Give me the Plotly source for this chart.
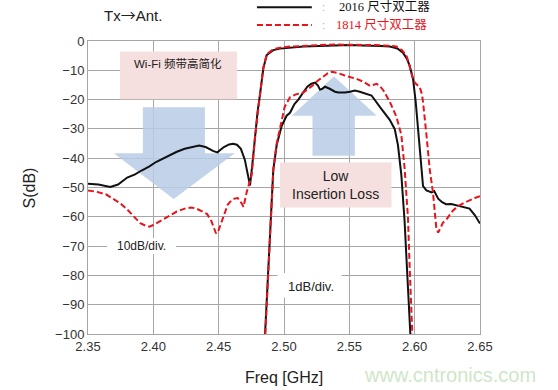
import plotly.graph_objects as go

# ---------------- data ----------------
series_names = ["2016 尺寸双工器", "1814 尺寸双工器"]

# wideband response (10 dB/div) - 2016 size (black)
f_wide_2016 = [2.350, 2.358, 2.367, 2.373, 2.380, 2.386, 2.391, 2.397, 2.402, 2.408, 2.413, 2.418,
               2.424, 2.430, 2.435, 2.440, 2.446, 2.449, 2.454, 2.458, 2.461, 2.464, 2.467, 2.470,
               2.472, 2.474, 2.4758, 2.4778, 2.4798, 2.4816, 2.4842, 2.4868, 2.4918, 2.497, 2.505,
               2.515, 2.527, 2.540, 2.550, 2.560, 2.5656, 2.574, 2.581, 2.587, 2.591, 2.594, 2.596,
               2.5987, 2.6008, 2.6026, 2.605, 2.6064, 2.609, 2.613, 2.615, 2.618, 2.621, 2.624,
               2.628, 2.634, 2.638, 2.642, 2.646, 2.650]
s_wide_2016 = [-48.7, -49.0, -49.8, -49.0, -46.6, -45.5, -44.2, -42.8, -41.3, -40.0, -38.8, -37.8,
               -36.8, -36.1, -35.7, -36.2, -37.6, -38.0, -36.2, -35.3, -35.1, -35.4, -36.8, -40.5,
               -45.0, -49.3, -42.0, -32.0, -24.0, -18.4, -9.3, -4.8, -3.1, -2.6, -2.2,
               -1.9, -1.7, -1.5, -1.4, -1.5, -1.5, -1.7, -1.9, -2.6, -4.0, -6.0, -8.2,
               -12.8, -20.8, -31.0, -43.7, -49.5, -51.0, -51.7, -51.2, -53.8, -55.0, -55.7,
               -55.6, -56.2, -56.6, -57.2, -59.4, -62.3]

# wideband response (10 dB/div) - 1814 size (red dashed)
f_wide_1814 = [2.350, 2.357, 2.364, 2.370, 2.375, 2.380, 2.385, 2.390, 2.394, 2.397, 2.400, 2.402,
               2.407, 2.413, 2.418, 2.424, 2.429, 2.433, 2.437, 2.441, 2.444, 2.446, 2.448, 2.450,
               2.452, 2.455, 2.457, 2.460, 2.462, 2.4645, 2.466, 2.468, 2.469, 2.4715, 2.4753,
               2.4778, 2.4798, 2.4816, 2.4842, 2.4868, 2.4918, 2.497, 2.505, 2.515, 2.527, 2.540,
               2.550, 2.560, 2.570, 2.580, 2.586, 2.590, 2.5936, 2.5955, 2.597, 2.599, 2.601,
               2.6038, 2.6055, 2.6064, 2.609, 2.6115, 2.614, 2.6155, 2.6166, 2.618, 2.620, 2.6217,
               2.625, 2.628, 2.631, 2.634, 2.638, 2.642, 2.646, 2.650]
s_wide_1814 = [-51.0, -51.5, -52.4, -54.0, -55.5, -57.5, -59.8, -62.2, -63.0, -63.4, -62.8, -62.3,
               -61.0, -59.4, -58.2, -57.2, -56.8, -57.2, -58.0, -59.0, -61.0, -63.5, -65.7, -64.5,
               -62.0, -58.5, -55.8, -54.3, -53.8, -53.6, -54.3, -55.7, -56.6, -51.5, -45.7,
               -33.0, -24.0, -18.4, -9.0, -4.5, -2.8, -2.3, -1.9, -1.6, -1.4, -1.2,
               -1.2, -1.3, -1.4, -1.6, -1.9, -3.0, -4.8, -7.5, -10.5, -13.5, -14.6,
               -15.7, -18.0, -20.8, -32.0, -43.7, -51.7, -58.0, -64.0, -65.4, -63.8, -62.0,
               -60.5, -58.5, -57.2, -56.2, -55.2, -54.3, -53.6, -53.0]

# passband detail (1 dB/div) - 2016 size (black)
f_pass_2016 = [2.4855, 2.4868, 2.488, 2.4893, 2.4906, 2.4918, 2.4944, 2.4982, 2.502, 2.5046,
               2.508, 2.511, 2.5148, 2.518, 2.521, 2.5237, 2.526, 2.5275, 2.529, 2.5314,
               2.535, 2.539, 2.5416, 2.5467, 2.5505, 2.5543, 2.558, 2.5633, 2.567, 2.5732,
               2.578, 2.5809, 2.5847, 2.5872, 2.5898, 2.5923, 2.5941, 2.5957, 2.5967]
s_pass_2016 = [-100.0, -89.0, -77.5, -66.0, -55.0, -44.0, -35.5, -29.0, -25.5, -24.5,
               -21.5, -20.0, -17.5, -15.5, -14.6, -14.2, -15.2, -16.6, -16.4, -15.6,
               -16.3, -17.3, -17.6, -17.6, -17.3, -16.9, -17.3, -18.2, -18.6, -22.4,
               -25.0, -26.9, -30.0, -35.5, -45.7, -61.6, -77.5, -89.0, -100.0]

# passband detail (1 dB/div) - 1814 size (red dashed)
f_pass_1814 = [2.4857, 2.4868, 2.488, 2.4893, 2.4906, 2.4918, 2.4944, 2.4975, 2.5005, 2.5046,
               2.509, 2.5148, 2.519, 2.5224, 2.526, 2.530, 2.5336, 2.5365, 2.5416, 2.546,
               2.5505, 2.556, 2.5607, 2.5658, 2.5709, 2.5735, 2.576, 2.5809, 2.586, 2.5898,
               2.5923, 2.5949, 2.5962, 2.5974, 2.5982]
s_pass_1814 = [-100.0, -89.0, -77.5, -66.0, -55.0, -44.0, -35.0, -28.0, -22.5, -19.2,
               -18.2, -17.6, -16.3, -15.0, -13.5, -12.2, -11.0, -10.5, -11.0, -11.7,
               -12.2, -13.0, -13.9, -15.3, -14.6, -15.5, -16.8, -20.7, -25.8, -32.0,
               -43.4, -60.5, -77.5, -89.0, -100.0]

x_tickvals = [2.35, 2.40, 2.45, 2.50, 2.55, 2.60, 2.65]
y_tickvals = [0, -10, -20, -30, -40, -50, -60, -70, -80, -90, -100]

# ---------------- figure ----------------
BLACK = "#111111"
RED = "#e8141c"
DASH = "6px,3px"

fig = go.Figure()
fig.add_trace(go.Scatter(x=f_wide_2016, y=s_wide_2016, mode="lines", name=series_names[0],
                         line=dict(color=BLACK, width=2), showlegend=False))
fig.add_trace(go.Scatter(x=f_pass_2016, y=s_pass_2016, mode="lines", name=series_names[0],
                         line=dict(color=BLACK, width=2), showlegend=False))
fig.add_trace(go.Scatter(x=f_wide_1814, y=s_wide_1814, mode="lines", name=series_names[1],
                         line=dict(color=RED, width=2, dash=DASH), showlegend=False))
fig.add_trace(go.Scatter(x=f_pass_1814, y=s_pass_1814, mode="lines", name=series_names[1],
                         line=dict(color=RED, width=2, dash=DASH), showlegend=False))

PINK = "#f6dfdf"
BLUE = "rgba(184,204,230,0.85)"

shapes = []
# pink boxes
shapes.append(dict(type="rect", xref="x", yref="y", x0=2.3745, x1=2.464, y0=-3.6, y1=-19.9,
                   fillcolor=PINK, line=dict(width=0), layer="between"))
shapes.append(dict(type="rect", xref="x", yref="y", x0=2.497, x1=2.5823, y0=-41.5, y1=-56.8,
                   fillcolor=PINK, line=dict(width=0), layer="between"))
# down arrow
shapes.append(dict(type="path", xref="x", yref="y",
                   path="M 2.392,-22.6 L 2.4395,-22.6 L 2.4395,-38.3 L 2.4624,-38.3 "
                        "L 2.4156,-53.9 L 2.3698,-38.3 L 2.392,-38.3 Z",
                   fillcolor=BLUE, line=dict(width=0), layer="between"))
# up arrow
shapes.append(dict(type="path", xref="x", yref="y",
                   path="M 2.5218,-39.2 L 2.5543,-39.2 L 2.5543,-25.5 L 2.571,-25.5 "
                        "L 2.5382,-12.0 L 2.506,-25.5 L 2.5218,-25.5 Z",
                   fillcolor=BLUE, line=dict(width=0), layer="between"))
# white label backgrounds
shapes.append(dict(type="rect", xref="x", yref="y", x0=2.3645, x1=2.4173, y0=-67.2, y1=-72.7,
                   fillcolor="white", line=dict(width=0), layer="between"))
shapes.append(dict(type="rect", xref="x", yref="y", x0=2.4951, x1=2.544, y0=-79.2, y1=-87.5,
                   fillcolor="white", line=dict(width=0), layer="between"))
# legend samples
shapes.append(dict(type="line", xref="paper", yref="paper", x0=0.431, x1=0.571, y0=1.115, y1=1.115,
                   line=dict(color=BLACK, width=2)))
shapes.append(dict(type="line", xref="paper", yref="paper", x0=0.431, x1=0.571, y0=1.0546, y1=1.0546,
                   line=dict(color=RED, width=2, dash=DASH)))

TXT = "#222222"
SANS = "Liberation Sans, Arial, Noto Sans CJK SC"
annotations = [
    dict(text="Tx<span style='font-family:Noto Sans CJK SC'>→</span>Ant.", xref="paper", yref="paper",
         x=0.036, y=1.089, xanchor="left", yanchor="middle",
         showarrow=False, font=dict(family="Liberation Sans, DejaVu Sans", size=15, color=TXT)),
    dict(text=":", xref="paper", yref="paper", x=0.602, y=1.115, xanchor="center", yanchor="middle",
         showarrow=False, font=dict(family=SANS, size=11, color="#aaaaaa")),
    dict(text=":", xref="paper", yref="paper", x=0.602, y=1.0546, xanchor="center", yanchor="middle",
         showarrow=False, font=dict(family=SANS, size=11, color="#aaaaaa")),
    dict(text=series_names[0], xref="paper", yref="paper", x=0.635, y=1.117, xanchor="left",
         yanchor="middle", showarrow=False,
         font=dict(family="Liberation Serif, Noto Sans CJK SC", size=12.5, color="#111111")),
    dict(text=series_names[1], xref="paper", yref="paper", x=0.628, y=1.056, xanchor="left",
         yanchor="middle", showarrow=False,
         font=dict(family="Liberation Serif, Noto Sans CJK SC", size=12.5, color=RED)),
    dict(text="Wi-Fi 频带高简化", xref="x", yref="y", x=2.3837, y=-7.6, xanchor="left", yanchor="middle",
         showarrow=False, font=dict(family=SANS, size=11.5, color=TXT)),
    dict(text="Low<br>Insertion Loss", xref="x", yref="y", x=2.5395, y=-49.3, xanchor="center",
         yanchor="middle", showarrow=False, font=dict(family=SANS, size=14, color=TXT)),
    dict(text="10dB/div.", xref="x", yref="y", x=2.3906, y=-70.0, xanchor="center", yanchor="middle",
         showarrow=False, font=dict(family=SANS, size=12, color=TXT)),
    dict(text="1dB/div.", xref="x", yref="y", x=2.5207, y=-83.9, xanchor="center", yanchor="middle",
         showarrow=False, font=dict(family=SANS, size=13, color=TXT)),
    dict(text="Freq [GHz]", xref="paper", yref="paper", x=0.5, y=-0.150, xanchor="center",
         yanchor="middle", showarrow=False, font=dict(family=SANS, size=16, color=TXT)),
    dict(text="S(dB)", xref="paper", yref="paper", x=-0.148, y=0.5, xanchor="center",
         yanchor="middle", textangle=-90, showarrow=False, font=dict(family=SANS, size=16, color=TXT)),
    dict(text="www.cntronics.com", xref="paper", yref="paper", x=0.923, y=-0.14, xanchor="center",
         yanchor="middle", showarrow=False, font=dict(family=SANS, size=20, color="#cfe6c9")),
]

GRID = "#a6a6a6"
fig.update_layout(
    width=558, height=390,
    margin=dict(l=88, r=78, t=41, b=56),
    paper_bgcolor="white", plot_bgcolor="white",
    showlegend=False,
    shapes=shapes, annotations=annotations,
    xaxis=dict(range=[2.35, 2.65], tickvals=x_tickvals, tickformat=".2f",
               showgrid=True, gridcolor=GRID, gridwidth=1, zeroline=False,
               showline=True, linecolor=GRID, linewidth=1, mirror=True, ticks="",
               tickfont=dict(family=SANS, size=13, color="#333333")),
    yaxis=dict(range=[-100, 0], tickvals=y_tickvals,
               showgrid=True, gridcolor=GRID, gridwidth=1, zeroline=False,
               showline=True, linecolor=GRID, linewidth=1, mirror=True, ticks="",
               tickfont=dict(family=SANS, size=13, color="#333333")),
)

# remove the page's default 8px body margin so the figure fills the window exactly
fig.write_html("out.html", config={"displayModeBar": False},
               post_script="document.body.style.margin='0';")
